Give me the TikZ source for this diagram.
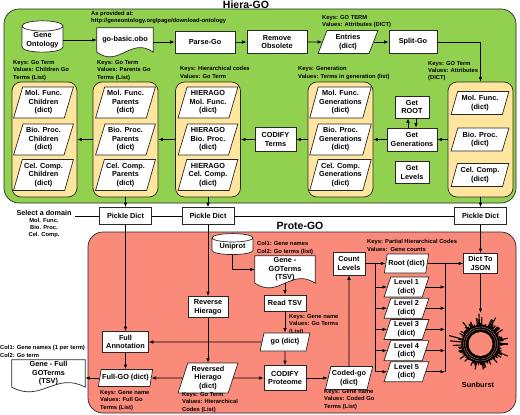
\documentclass[tikz,border=0pt]{standalone}
\usepackage{fontspec}
\setmainfont{Liberation Sans}
\usetikzlibrary{shapes.geometric,arrows.meta,calc}

\definecolor{hieragreen}{RGB}{146,208,80}
\definecolor{protered}{RGB}{250,138,122}
\definecolor{grpyellow}{RGB}{255,229,158}
\definecolor{edgegray}{RGB}{40,40,40}

\newcommand{\boxfont}{\fontsize{7.3}{8.6}\selectfont\bfseries}
\newcommand{\keysfont}{\fontsize{5.8}{7.2}\selectfont\bfseries}
\newcommand{\docwave}[1]{\draw[docline] (#1.south west) -- (#1.north west) -- (#1.north east) -- (#1.south east)
    .. controls ($(#1.south east)!0.4!(#1.south west)+(0,-16)$) and ($(#1.south west)!0.4!(#1.south east)+(0,16)$) .. (#1.south west) -- cycle;}

\begin{document}
\begin{tikzpicture}[x=1pt,y=-1pt,
    >={Latex[length=4.5pt,width=3.5pt]},
    box/.style={draw=edgegray,fill=white,line width=0.7pt,font=\boxfont,align=center,inner sep=1pt},
    dictbox/.style={trapezium,trapezium left angle=72,trapezium right angle=108,trapezium stretches=true,
        draw=edgegray,fill=white,line width=0.7pt,font=\boxfont,align=center,inner sep=1pt},
    grp/.style={draw=edgegray,fill=grpyellow,line width=0.7pt,rounded corners=9pt,minimum width=65,minimum height=115},
    db/.style={cylinder,shape border rotate=90,aspect=0.3,draw=edgegray,fill=white,line width=0.7pt,
        font=\boxfont,align=center,inner sep=1pt},
    docbody/.style={inner sep=0pt},
    docline/.style={draw=edgegray,fill=white,line width=0.7pt},
    keytext/.style={font=\keysfont,align=left,anchor=north west,inner sep=0pt},
    flow/.style={->,line width=0.7pt},
    title/.style={font=\fontsize{10.5}{12}\selectfont\bfseries}]
    \useasboundingbox (0,0) rectangle (520,415);

    % Hiera-GO
    \node[title] (hieratitle) at (246,5) {Hiera-GO};
    \draw[draw=edgegray,fill=hieragreen,line width=0.7pt,rounded corners=15pt] (4,9) rectangle (516,203);

    \node[db,minimum width=41,minimum height=30] (gonto) at (42.5,40) {Gene\\Ontology};
    \node[docbody,minimum width=56,minimum height=24] (obo) at (125,40) {};
    \docwave{obo}
    \node[font=\boxfont] (obotxt) at (obo) {go-basic.obo};
    \node[keytext] (provided) at (91,11) {As provided at:\\http://geneontology.org/page/download-ontology};
    \node[box,minimum width=60,minimum height=22] (parse) at (205,42) {Parse-Go};
    \node[box,minimum width=60,minimum height=23] (remove) at (277,42) {Remove\\Obsolete};
    \node[dictbox,minimum width=60,minimum height=23] (entries) at (348,42) {Entries\\(dict)};
    \node[keytext] (entrieskeys) at (322,15.5) {Keys: GO TERM\\Values: Attributes (DICT)};
    \node[box,minimum width=48,minimum height=23] (split) at (413,42) {Split-Go};
    \node[keytext] (splitkeys) at (428,61) {Keys: GO Term\\Values: Attributes\\(DICT)};

    \node[grp] (domgrp) at (480.5,139.5) {};
    \foreach \d/\n/\y in {Mol. Func./mf/103, Bio. Proc./bp/139.5, Cel. Comp./cc/175}{
        \node[dictbox,minimum width=58,minimum height=23] (dom\n) at (480,\y) {\d\\(dict)};
    }
    \node[box,minimum width=34,minimum height=22] (getroot) at (412,107) {Get\\ROOT};
    \node[box,minimum width=50,minimum height=23] (getgen) at (412,139.5) {Get\\Generations};
    \node[box,minimum width=34,minimum height=22] (getlev) at (412,172.5) {Get\\Levels};

    \node[grp] (gengrp) at (340.5,139.5) {};
    \foreach \d/\n/\y in {Mol. Func./mf/102.5, Bio. Proc./bp/139.5, Cel. Comp./cc/175}{
        \node[dictbox,minimum width=60,minimum height=31] (gen\n) at (340.5,\y) {\d\\Generations\\(dict)};
    }
    \node[keytext] (genkeys) at (298,66.5) {Keys: Generation\\Values: Terms in generation (list)};
    \node[box,minimum width=41,minimum height=24] (codterms) at (275.5,139.5) {CODIFY\\Terms};

    \node[grp] (hgrp) at (208,139.5) {};
    \foreach \d/\n/\y in {Mol. Func./mf/102.5, Bio. Proc./bp/139.5, Cel. Comp./cc/175}{
        \node[dictbox,minimum width=60,minimum height=31] (hier\n) at (208,\y) {HIERAGO\\\d\\(dict)};
    }
    \node[keytext] (hkeys) at (180,66.5) {Keys: Hierarchical codes\\Values: Go Term};

    \node[grp] (pgrp) at (125.5,139.5) {};
    \foreach \d/\n/\y in {Mol. Func./mf/102.5, Bio. Proc./bp/139.5, Cel. Comp./cc/175}{
        \node[dictbox,minimum width=60,minimum height=31] (par\n) at (125.5,\y) {\d\\Parents\\(dict)};
    }
    \node[keytext] (pkeys) at (97,60.5) {Keys: Go Term\\Values: Parents Go\\Terms (List)};

    \node[grp] (cgrp) at (44.5,139.5) {};
    \foreach \d/\n/\y in {Mol. Func./mf/102.5, Bio. Proc./bp/139.5, Cel. Comp./cc/175}{
        \node[dictbox,minimum width=60,minimum height=31] (chi\n) at (43.5,\y) {\d\\Children\\(dict)};
    }
    \node[keytext] (ckeys) at (13,60.5) {Keys: Go Term\\Values: Children Go\\Terms (List)};

    \draw[flow] (gonto.east) -- (gonto.east -| obo.west);
    \draw[flow] (obo.east |- parse.west) -- (parse.west);
    \draw[flow] (parse) -- (remove);
    \draw[flow] (remove) -- (entries);
    \draw[flow] (entries) -- (split);
    \draw[flow] (split.east) -| (domgrp.north);
    \draw[flow] (domgrp) -- (getgen);
    \draw[flow] ([xshift=-4pt]getgen.north) -- ([xshift=-4pt]getroot.south);
    \draw[flow] ([xshift=4pt]getroot.south) -- ([xshift=4pt]getgen.north);
    \draw[flow] (getgen) -- (gengrp);
    \draw[flow] (gengrp) -- (codterms);
    \draw[flow] (codterms) -- (hgrp);
    \draw[flow] (hgrp) -- (pgrp);
    \draw[flow] (pgrp) -- (cgrp);

    % pickles
    \node[box,minimum width=52,minimum height=17] (pd1) at (125.5,216) {Pickle Dict};
    \node[box,minimum width=52,minimum height=17] (pd2) at (208,216) {Pickle Dict};
    \node[box,minimum width=52,minimum height=17] (pd3) at (480.5,216) {Pickle Dict};
    \node[font=\fontsize{7.2}{8.6}\selectfont\bfseries] (seldom) at (44,212.5) {Select a domain};
    \node[font=\fontsize{5.8}{6.8}\selectfont\bfseries,align=center,anchor=north,inner sep=0pt] (seldoms) at (44,218)
        {Mol. Func.\\Bio. Proc.\\Cel. Comp.};
    \draw[flow] (pgrp) -- (pd1);
    \draw[flow] (hgrp) -- (pd2);
    \draw[flow] (domgrp) -- (pd3);
    \draw[line width=0.7pt] (seldom.east |- pd1.west) -- (pd1.west) (pd1) -- (pd2) (pd2) -- (pd3);

    % Prote-GO
    \draw[draw=edgegray,fill=protered,line width=0.7pt,rounded corners=15pt] (88,232) rectangle (516,413);
    \node[title] (protetitle) at (300,226) {Prote-GO};

    \node[db,minimum width=41,minimum height=21] (uniprot) at (232.5,247) {Uniprot};
    \node[keytext] (unikeys) at (257,241.5) {Col1: Gene names\\Col2: Go terms (list)};
    \node[docbody,minimum width=60,minimum height=27] (gotsv) at (285,269.5) {};
    \docwave{gotsv}
    \node[font=\boxfont,align=center] (gotsvtxt) at (gotsv) {Gene -\\GOTerms\\(TSV)};
    \node[box,minimum width=42,minimum height=16] (readtsv) at (285,303) {Read TSV};
    \node[keytext] (readkeys) at (289,314.5) {Keys: Gene name\\Values: Go Terms\\(List)};
    \node[dictbox,minimum width=50,minimum height=18] (godict) at (285,342) {go (dict)};
    \node[box,minimum width=42,minimum height=25] (codprot) at (285,378) {CODIFY\\Proteome};
    \node[dictbox,minimum width=44,minimum height=23] (codedgo) at (349,378) {Coded-go\\(dict)};
    \node[keytext] (codedkeys) at (324,389.5) {Keys: Gene name\\Values: Coded Go\\Terms (List)};
    \node[box,minimum width=32,minimum height=23] (countlev) at (349,263.5) {Count\\Levels};
    \node[keytext] (partkeys) at (367,239.5) {Keys: Partial Hierarchical Codes\\Values:\ \ Gene counts};
    \node[dictbox,minimum width=44,minimum height=19] (rootd) at (406.5,263.5) {Root (dict)};
    \foreach \i in {1,...,5}{
        \node[dictbox,minimum width=45,minimum height=20] (lev\i) at (406.5,{265.8+21.2*\i}) {Level \i\\(dict)};
    }
    \node[box,minimum width=34,minimum height=20] (djson) at (480.5,263.5) {Dict To\\JSON};
    \coordinate (lbus) at (375,0);
    \coordinate (rbus) at (445,0);
    \coordinate (sun) at (480.5,344);
    \coordinate (suntop) at (480.5,313);

    \node[box,minimum width=40,minimum height=21] (revh) at (208,307) {Reverse\\Hierago};
    \node[box,minimum width=46,minimum height=21] (fullann) at (125.5,342) {Full\\Annotation};
    \node[dictbox,minimum width=52,minimum height=17] (fullgo) at (125.5,378) {Full-GO (dict)};
    \node[keytext] (fullkeys) at (100,390.5) {Keys: Gene name\\Values: Full Go\\Terms (List)};
    \node[dictbox,minimum width=60,minimum height=30] (revhd) at (208,378) {Reversed\\Hierago\\(dict)};
    \node[keytext] (revkeys) at (182,392.5) {Keys: Go Term\\Values: Hierarchical\\Codes (List)};
    \node[docbody,minimum width=73,minimum height=27] (fulltsv) at (48.5,373.5) {};
    \docwave{fulltsv}
    \node[font=\boxfont,align=center] (fulltsvtxt) at (fulltsv) {Gene - Full\\GOTerms\\(TSV)};
    \node[keytext] (fullcols) at (0,345.5) {Col1: Gene names (1 per term)\\Col2: Go term};

    % sunburst
    \fill[black] (sun) circle[radius=19];
    \fill[protered] (sun) circle[radius=12];
    \draw[protered,line width=0.3pt] (sun) circle[radius=15] (sun) circle[radius=17];
    \pgfmathsetseed{11}
    \foreach \a in {0,3,...,357}{
        \pgfmathsetmacro{\rr}{18.5+rnd*rnd*15}
        \draw[line width=1.1pt] ($(sun)+(\a:18.5)$) -- ($(sun)+(\a:\rr)$);
    }
    \node[font=\boxfont] (sunlbl) at (478,385) {Sunburst};

    \draw[flow] (uniprot.south) |- (gotsv.west);
    \draw[flow] (gotsv) -- (readtsv);
    \draw[flow] (readtsv) -- (godict);
    \draw[flow] (godict) -- (codprot);
    \draw[flow] (codprot) -- (codedgo);
    \draw[flow] (codedgo) -- (countlev);
    \draw[flow] (countlev) -- (rootd);
    \draw[line width=0.7pt] (lbus |- rootd.west) -- (lbus |- lev5.west);
    \draw[line width=0.7pt] (rbus |- rootd.east) -- (rbus |- lev5.east);
    \foreach \i in {1,...,5}{
        \draw[flow] (lbus |- lev\i.west) -- (lev\i.west);
        \draw[flow] (lev\i.east) -- (rbus |- lev\i.east);
    }
    \draw[flow] (rootd) -- (djson);
    \draw[flow] (pd3) -- (djson);
    \draw[flow] (djson) -- (suntop);

    \draw[flow] (pd1) -- (fullann);
    \draw[flow] (pd2) -- (revh);
    \draw[flow] (godict) -- (fullann);
    \draw[flow] (revh) -- (revhd);
    \draw[flow] (fullann) -- (fullgo);
    \draw[flow] (revhd) -- (fullgo);
    \draw[flow] (revhd) -- (codprot);
    \draw[flow] (fullgo.west) -- (fullgo.west -| fulltsv.east);
\end{tikzpicture}
\end{document}
